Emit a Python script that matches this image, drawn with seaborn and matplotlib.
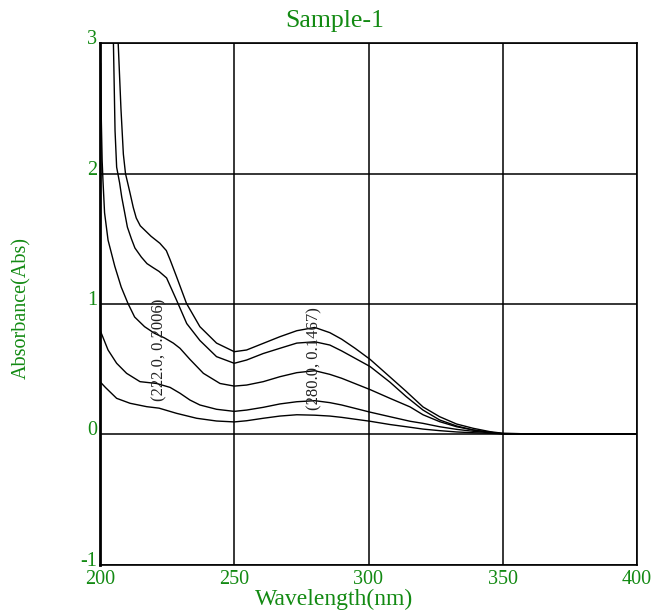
import matplotlib
matplotlib.use("Agg")
import matplotlib.pyplot as plt
import matplotlib.transforms as mtransforms
import seaborn as sns
import pandas as pd

# ---- data ----
c1_wl = [205.5, 206.8, 207.8, 208.7, 209.5, 210.3, 211.2, 212.4, 213.5, 215.0, 217.0, 219.0,
         222.3, 224.7, 226.1, 228.5, 232.2, 237.2, 243.4, 250.0, 254.6, 260.8, 267.0, 273.3,
         280.0, 285.6, 290.0, 295.0, 300.6, 308.0, 314.0, 320.3, 326.5, 332.8, 339.0, 345.3,
         350.0, 360.0, 400.0]
c1_abs = [3.5, 2.99, 2.5, 2.15, 2.0, 1.93, 1.85, 1.74, 1.66, 1.60, 1.56, 1.52,
          1.466, 1.41, 1.34, 1.21, 1.005, 0.826, 0.70, 0.634, 0.647, 0.698, 0.749, 0.795,
          0.82, 0.78, 0.73, 0.66, 0.575, 0.44, 0.33, 0.21, 0.135, 0.079, 0.046, 0.02,
          0.008, 0.003, 0.002]

c2_wl = [204.3, 205.0, 205.6, 206.2, 207.3, 208.1, 209.2, 210.2, 211.7, 213.0, 215.4, 217.5,
         219.7, 222.0, 224.8, 228.5, 232.3, 237.2, 243.4, 250.0, 254.6, 260.8, 267.0, 273.3,
         280.0, 285.6, 290.0, 300.6, 308.0, 314.0, 320.3, 326.5, 332.8, 339.0, 345.3, 350.0,
         400.0]
c2_abs = [3.5, 3.0, 2.33, 2.05, 1.93, 1.82, 1.70, 1.59, 1.50, 1.43, 1.36, 1.31,
          1.28, 1.25, 1.20, 1.03, 0.85, 0.72, 0.596, 0.545, 0.57, 0.62, 0.66, 0.70,
          0.71, 0.685, 0.64, 0.52, 0.40, 0.29, 0.186, 0.11, 0.064, 0.033, 0.015, 0.005,
          0.002]

c3_wl = [200.2, 200.5, 200.8, 201.1, 201.7, 203.0, 205.5, 207.9, 210.4, 212.9, 216.6, 220.3,
         224.0, 227.3, 229.8, 233.5, 238.5, 244.7, 250.0, 254.6, 260.8, 267.0, 273.3, 280.0,
         285.6, 290.0, 300.6, 308.0, 315.5, 320.3, 326.5, 332.8, 339.0, 345.3, 350.0, 400.0]
c3_abs = [2.85, 2.4, 2.1, 1.95, 1.70, 1.49, 1.29, 1.13, 1.005, 0.90, 0.826, 0.775,
          0.74, 0.70, 0.66, 0.575, 0.468, 0.39, 0.37, 0.378, 0.404, 0.442, 0.473, 0.488,
          0.46, 0.43, 0.343, 0.276, 0.21, 0.15, 0.097, 0.058, 0.033, 0.015, 0.005, 0.002]

c4_wl = [200.0, 200.5, 203.0, 206.2, 209.9, 214.9, 221.1, 226.1, 229.8, 233.5, 237.2, 243.4,
         250.0, 254.6, 260.8, 267.0, 273.3, 280.0, 285.6, 290.0, 300.6, 308.0, 315.5, 320.3,
         326.5, 332.8, 339.0, 345.3, 350.0, 400.0]
c4_abs = [0.80, 0.775, 0.647, 0.545, 0.468, 0.404, 0.39, 0.36, 0.315, 0.263, 0.225, 0.192,
          0.176, 0.186, 0.207, 0.233, 0.25, 0.258, 0.243, 0.225, 0.17, 0.135, 0.10, 0.084,
          0.058, 0.038, 0.023, 0.012, 0.004, 0.002]

c5_wl = [200.0, 202.0, 206.2, 211.2, 217.4, 222.0, 228.5, 236.0, 243.4, 250.0, 254.6, 260.8,
         267.0, 273.3, 280.0, 285.6, 290.0, 300.6, 308.0, 315.5, 320.3, 326.5, 332.8, 339.0,
         345.3, 350.0, 400.0]
c5_abs = [0.404, 0.36, 0.276, 0.238, 0.212, 0.2006, 0.161, 0.123, 0.102, 0.095, 0.104, 0.123,
          0.14, 0.150, 0.1467, 0.14, 0.13, 0.10, 0.075, 0.054, 0.04, 0.028, 0.018, 0.012,
          0.008, 0.004, 0.002]

peak_labels = ["(222.0, 0.2006)", "(280.0, 0.1467)"]
peak_wl = [222.0, 280.0]
label_y = [0.647, 0.578]

x_ticks = [200, 250, 300, 350, 400]
y_ticks = [-1, 0, 1, 2, 3]

# ---- style ----
sns.set_style("white")
plt.rcParams["font.family"] = ["Liberation Serif", "DejaVu Serif"]
GREEN = "#138a13"

fig = plt.figure(figsize=(6.57, 6.10), dpi=100)
W, H = 657, 610
ax = fig.add_axes([100 / W, 1 - 564.6 / H, 537 / W, (564.6 - 43.4) / H])

curves = [(c1_wl, c1_abs), (c2_wl, c2_abs), (c3_wl, c3_abs), (c4_wl, c4_abs), (c5_wl, c5_abs)]
for wl, ab in curves:
    df = pd.DataFrame({"Wavelength": wl, "Abs": ab})
    sns.lineplot(data=df, x="Wavelength", y="Abs", ax=ax, color="black",
                 linewidth=1.0, estimator=None, sort=False)

ax.set_xlim(200, 400)
ax.set_ylim(-1, 3)
ax.set_xticks(x_ticks)
ax.set_yticks(y_ticks)
ax.set_xticklabels([str(t) for t in x_ticks], fontsize=14.5, color=GREEN)
ax.set_yticklabels([str(t) for t in y_ticks], fontsize=14.5, color=GREEN)
ax.tick_params(axis="both", length=0)
ax.tick_params(axis="x", pad=4)
ax.tick_params(axis="y", pad=2)
shift = mtransforms.ScaledTranslation(0, 0.06, fig.dpi_scale_trans)
for lab in ax.get_yticklabels():
    lab.set_transform(lab.get_transform() + shift)
ax.grid(True, color="black", linewidth=1.1)
ax.set_axisbelow(True)
ax.set_xlabel("")
ax.set_ylabel("")
for s in ["top", "right", "bottom"]:
    ax.spines[s].set_color("black")
    ax.spines[s].set_linewidth(1.2)
ax.spines["left"].set_color("black")
ax.spines["left"].set_linewidth(2.0)

for txt, xw, yv in zip(peak_labels, peak_wl, label_y):
    ax.text(xw, yv, txt, rotation=90, ha="center", va="center",
            fontsize=12, color="#222222")

fig.text(335 / W, 1 - 21 / H, "Sample-1", ha="center", va="center",
         fontsize=18.5, color=GREEN)
fig.text(334.5 / W, 1 - 599.5 / H, "Wavelength(nm)", ha="center", va="center",
         fontsize=17, color=GREEN)
fig.text(22 / W, 1 - 308 / H, "Absorbance(Abs)", ha="center", va="center",
         rotation=90, fontsize=14.5, color=GREEN)

fig.savefig("out.png", dpi=100, facecolor="white")
